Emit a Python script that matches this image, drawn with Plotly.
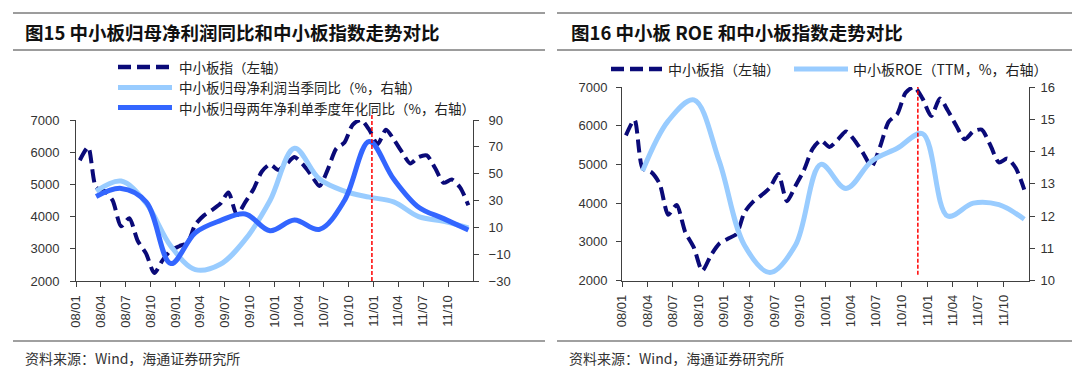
import pandas as pd
import plotly.graph_objects as go

# ---------------- data ----------------
# monthly SME board index (中小板指), Jan-2008 .. Dec-2011
INDEX_VALUES = [5750, 6150, 4900, 4800, 4500, 3700, 3950, 3250, 2850, 2250, 2650, 2950,
                3080, 3200, 3750, 4030, 4200, 4400, 4750, 4050, 4450, 4850, 5400, 5620,
                5450, 5650, 5850, 5620, 5300, 4950, 5450, 6100, 6300, 6850, 7000, 6700,
                6250, 6700, 6400, 6000, 5650, 5850, 5900, 5500, 5050, 5150, 4900, 4350]
# quarterly series 2008Q1 .. 2011Q4
PROFIT_YOY = [37, 44.5, 28, -4, -21.5, -17.5, 1, 30, 69, 46, 37, 32.5, 29, 18, 14.5, 9.5]
TWO_YEAR_YOY = [33, 39, 29, -17, 6, 15, 20, 7.5, 15.5, 8.5, 30, 74, 46, 25, 16.5, 8]
ROE_TTM = [13.4, 14.95, 15.6, 13.7, 11.1, 10.25, 11.1, 13.6, 12.85, 13.7, 14.1, 14.55,
           12.0, 12.4, 12.35, 11.9]

TICK_DATES = ["2008-01-01", "2008-04-01", "2008-07-01", "2008-10-01",
              "2009-01-01", "2009-04-01", "2009-07-01", "2009-10-01",
              "2010-01-01", "2010-04-01", "2010-07-01", "2010-10-01",
              "2011-01-01", "2011-04-01", "2011-07-01", "2011-10-01"]
TICK_LABELS = ["08/01", "08/04", "08/07", "08/10", "09/01", "09/04", "09/07", "09/10",
               "10/01", "10/04", "10/07", "10/10", "11/01", "11/04", "11/07", "11/10"]

MARK_LEFT = "2010-12-25"
MARK_RIGHT = "2010-11-28"

TITLE_L = "<b>图15 中小板归母净利润同比和中小板指数走势对比</b>"
TITLE_R = "<b>图16 中小板 ROE 和中小板指数走势对比</b>"
SOURCE = "资料来源：Wind，海通证券研究所"
NAME_IDX = "中小板指（左轴）"
NAME_PROFIT = "中小板归母净利润当季同比（%，右轴）"
NAME_TWO = "中小板归母两年净利单季度年化同比（%，右轴）"
NAME_ROE = "中小板ROE（TTM，%，右轴）"

# ---------------- positions ----------------
months = pd.date_range("2008-01-01", periods=48, freq="MS") + pd.Timedelta(days=14)
quarters = months[2::3]

W, H = 1080, 366
NAVY = "#0a0a78"
LIGHT = "#99ccff"
ROYAL = "#3366ff"
DASH = "13px,6px"
AX = "#404040"
TXT = "#333333"
CJK = "Noto Sans CJK SC"
LAT = "Liberation Sans, Arial"


def px(x):
    return x / W


def py(y):
    return 1 - y / H


fig = go.Figure()
fig.add_trace(go.Scatter(x=months, y=INDEX_VALUES, xaxis="x", yaxis="y", mode="lines",
                         line=dict(color=NAVY, width=4, dash=DASH, shape="spline", smoothing=0.7),
                         name=NAME_IDX))
fig.add_trace(go.Scatter(x=quarters, y=PROFIT_YOY, xaxis="x", yaxis="y2", mode="lines",
                         line=dict(color=LIGHT, width=5, shape="spline", smoothing=1.0),
                         name=NAME_PROFIT))
fig.add_trace(go.Scatter(x=quarters, y=TWO_YEAR_YOY, xaxis="x", yaxis="y2", mode="lines",
                         line=dict(color=ROYAL, width=5, shape="spline", smoothing=1.0),
                         name=NAME_TWO))
fig.add_trace(go.Scatter(x=months, y=INDEX_VALUES, xaxis="x2", yaxis="y3", mode="lines",
                         line=dict(color=NAVY, width=4, dash=DASH, shape="spline", smoothing=0.7),
                         name=NAME_IDX))
fig.add_trace(go.Scatter(x=quarters, y=ROE_TTM, xaxis="x2", yaxis="y4", mode="lines",
                         line=dict(color=LIGHT, width=5, shape="spline", smoothing=1.0),
                         name=NAME_ROE))

tickfont = dict(family=LAT, size=13, color=TXT)
common_x = dict(type="date", range=["2008-01-01", "2012-01-01"], tickvals=TICK_DATES,
                ticktext=TICK_LABELS, tickangle=-90, ticks="outside", ticklen=5,
                tickcolor=AX, showline=True, linecolor=AX, linewidth=1, showgrid=False,
                zeroline=False, tickfont=tickfont, fixedrange=True, automargin=False,
                ticklabelstandoff=3)
common_y = dict(ticks="outside", ticklen=5, tickcolor=AX, showline=True, linecolor=AX,
                linewidth=1, showgrid=False, zeroline=False, tickfont=tickfont,
                fixedrange=True, automargin=False)

fig.update_layout(
    width=W, height=H, autosize=False, showlegend=False,
    margin=dict(l=0, r=0, t=0, b=0, pad=0),
    paper_bgcolor="white", plot_bgcolor="white",
    xaxis=dict(domain=[px(68), px(465)], anchor="y", **common_x),
    yaxis=dict(domain=[py(273), py(112)], anchor="x", range=[2000, 7000], dtick=1000,
               ticklabelstandoff=8, **common_y),
    yaxis2=dict(overlaying="y", side="right", anchor="x", range=[-30, 90], tick0=-30, dtick=20,
                ticklabelstandoff=7, **common_y),
    xaxis2=dict(domain=[px(614), px(1021)], anchor="y3", **common_x),
    yaxis3=dict(domain=[py(272.5), py(79)], anchor="x2", range=[2000, 7000], dtick=1000,
                ticklabelstandoff=6, **common_y),
    yaxis4=dict(overlaying="y3", side="right", anchor="x2", range=[10, 16], dtick=1,
                ticklabelstandoff=3, **common_y),
)

shapes = []
# horizontal rules
for x0, x1 in [(5, 537), (549, 1077)]:
    shapes.append(dict(type="line", xref="paper", yref="paper", x0=px(x0), x1=px(x1),
                       y0=py(5), y1=py(5), line=dict(color="#3a3a3a", width=1)))
    shapes.append(dict(type="line", xref="paper", yref="paper", x0=px(x0), x1=px(x1),
                       y0=py(42), y1=py(42), line=dict(color="#3a3a3a", width=1)))
    shapes.append(dict(type="line", xref="paper", yref="paper", x0=px(x0), x1=px(x1),
                       y0=py(333), y1=py(333), line=dict(color="#a0a0a0", width=2)))
# red markers
shapes.append(dict(type="line", xref="x", yref="y domain", x0=MARK_LEFT, x1=MARK_LEFT,
                   y0=0, y1=1.045, line=dict(color="#ff0000", width=1.5, dash="4px,2px")))
shapes.append(dict(type="line", xref="x2", yref="y3 domain", x0=MARK_RIGHT, x1=MARK_RIGHT,
                   y0=0.03, y1=1.0, line=dict(color="#ff0000", width=1.5, dash="4px,2px")))

annotations = []
# legends
legend_left = [(NAME_IDX, NAVY, 4.5, DASH, 59), (NAME_PROFIT, LIGHT, 5, None, 79.5),
               (NAME_TWO, ROYAL, 5, None, 99.5)]
for name, col, wd, dash, yy in legend_left:
    ln = dict(color=col, width=wd)
    if dash:
        ln["dash"] = dash
    shapes.append(dict(type="line", xref="paper", yref="paper", x0=px(110), x1=px(164),
                       y0=py(yy), y1=py(yy), line=ln))
    annotations.append(dict(xref="paper", yref="paper", x=px(169), y=py(yy), text=name,
                            showarrow=False, xanchor="left", yanchor="middle",
                            font=dict(family=CJK, size=13.5, color="#222222")))
legend_right = [(NAME_IDX, NAVY, 4.5, DASH, 603, 655), (NAME_ROE, LIGHT, 5, None, 786, 840)]
for name, col, wd, dash, x0, x1 in legend_right:
    ln = dict(color=col, width=wd)
    if dash:
        ln["dash"] = dash
    shapes.append(dict(type="line", xref="paper", yref="paper", x0=px(x0), x1=px(x1),
                       y0=py(61), y1=py(61), line=ln))
    annotations.append(dict(xref="paper", yref="paper", x=px(x1 + 3), y=py(61), text=name,
                            showarrow=False, xanchor="left", yanchor="middle",
                            font=dict(family=CJK, size=14, color="#222222")))
# titles and sources
for txt, x in [(TITLE_L, 15), (TITLE_R, 561)]:
    annotations.append(dict(xref="paper", yref="paper", x=px(x), y=py(24), text=txt,
                            showarrow=False, xanchor="left", yanchor="middle",
                            font=dict(family=CJK, size=18.5, color="#111111")))
for x in [15, 559]:
    annotations.append(dict(xref="paper", yref="paper", x=px(x), y=py(350), text=SOURCE,
                            showarrow=False, xanchor="left", yanchor="middle",
                            font=dict(family=CJK, size=14, color=TXT)))

fig.update_layout(shapes=shapes, annotations=annotations)
fig.write_html("out.html")
